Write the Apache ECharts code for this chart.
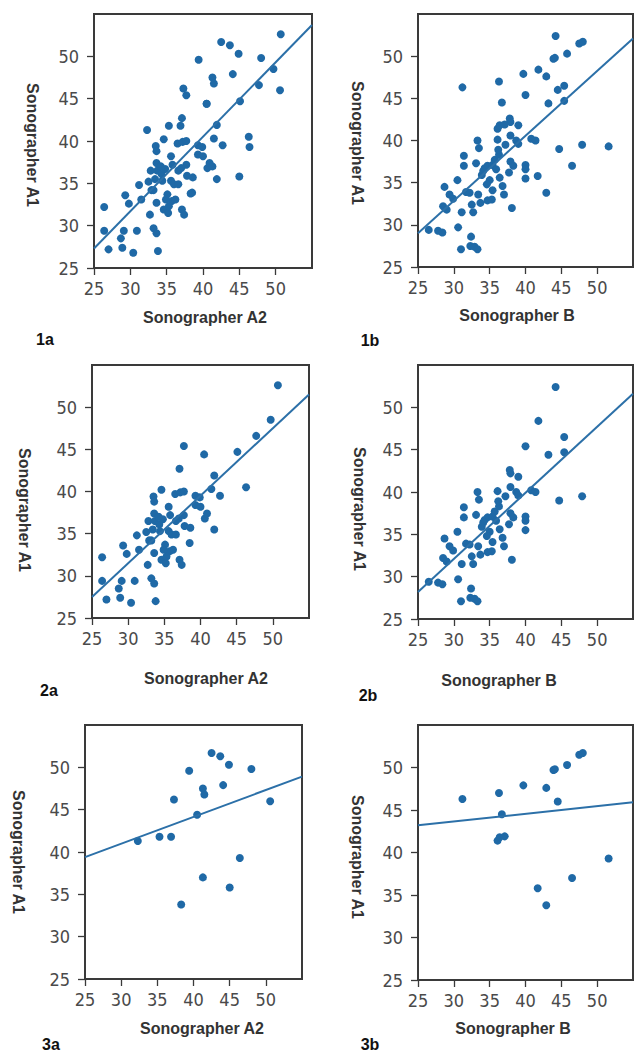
<!DOCTYPE html>
<html>
<head>
<meta charset="utf-8">
<script src="https://cdn.jsdelivr.net/npm/echarts@6/dist/echarts.min.js"></script>
<style>
  html, body { margin: 0; padding: 0; background: #fff; }
  #chart { width: 635px; height: 1052px; }
</style>
</head>
<body>
<div id="chart"></div>
<script>
  // [Sonographer A2, Sonographer A1] - main group (panel 2a)
  var a2Main = [
    [26.4, 32.2], [26.4, 29.4], [27.0, 27.2], [28.9, 27.4], [30.4, 26.8], [28.7, 28.5],
    [29.1, 29.4], [29.3, 33.6], [29.8, 32.6], [30.9, 29.4], [31.2, 34.8], [31.5, 33.1],
    [32.5, 35.2], [32.7, 31.3], [32.8, 36.5], [32.9, 34.2], [33.2, 29.7], [33.6, 29.1],
    [33.6, 32.7], [33.8, 27.0], [33.5, 39.4], [33.6, 38.8], [33.6, 37.4], [33.7, 36.5],
    [33.4, 35.5], [33.2, 34.2], [34.6, 40.2], [34.3, 36.1], [34.8, 36.7], [34.6, 31.9],
    [35.2, 31.5], [35.1, 33.7], [35.6, 38.2], [35.8, 37.2], [35.6, 35.3], [36.0, 34.9],
    [35.7, 32.9], [35.3, 32.3], [36.6, 36.5], [37.1, 31.9], [37.4, 31.3], [37.1, 42.7],
    [37.7, 45.4], [36.5, 39.7], [37.2, 39.9], [37.7, 40.0], [37.7, 37.2], [37.8, 35.9],
    [37.0, 36.8], [38.6, 35.7], [38.5, 33.9], [39.3, 39.5], [39.9, 39.3], [39.3, 38.4],
    [40.0, 38.2], [40.5, 44.4], [40.6, 36.8], [40.9, 37.4], [41.5, 40.3], [41.9, 41.9],
    [41.9, 35.5], [42.7, 39.5], [45.1, 44.7], [46.3, 40.5], [47.7, 46.6], [49.7, 48.5],
    [50.7, 52.6], [34.2, 37.0], [34.9, 33.1], [34.4, 35.3], [36.2, 33.1], [36.6, 34.9]
  ];
  // [Sonographer A2, Sonographer A1] - subgroup (panel 3a)
  var a2Out = [
    [32.3, 41.3], [35.3, 41.8], [36.9, 41.8], [37.3, 46.2], [38.3, 33.8], [39.4, 49.6],
    [40.5, 44.4], [41.3, 47.5], [41.5, 46.8], [41.3, 37.0], [42.5, 51.7], [43.7, 51.3],
    [44.1, 47.9], [44.9, 50.3], [45.0, 35.8], [46.4, 39.3], [48.0, 49.8], [50.6, 46.0]
  ];
  // [Sonographer B, Sonographer A1] - main group (panel 2b)
  var bMain = [
    [26.5, 29.4], [27.8, 29.3], [28.4, 29.1], [28.5, 32.2], [28.7, 34.5], [29.0, 31.8],
    [29.4, 33.6], [29.9, 33.1], [30.5, 35.3], [30.6, 29.7], [31.0, 27.1], [31.4, 38.2],
    [31.4, 37.0], [31.1, 31.5], [31.7, 33.9], [32.2, 33.8], [32.4, 28.6], [32.3, 27.5],
    [32.9, 27.4], [33.3, 27.1], [32.7, 31.5], [32.5, 32.4], [33.1, 37.3], [33.3, 40.0],
    [33.5, 39.1], [33.4, 33.6], [33.7, 32.6], [33.9, 35.9], [34.3, 36.7], [34.7, 32.9],
    [35.0, 35.3], [35.3, 33.0], [35.4, 34.1], [34.7, 37.0], [35.4, 37.1], [35.7, 37.7],
    [36.1, 40.1], [36.3, 38.3], [36.2, 38.9], [36.4, 35.6], [36.8, 34.6], [37.0, 33.6],
    [37.2, 39.5], [37.8, 42.6], [37.9, 42.2], [37.7, 36.2], [37.9, 37.5], [38.1, 32.0],
    [38.3, 37.0], [37.9, 40.6], [38.7, 40.0], [39.0, 41.8], [39.0, 39.6], [40.0, 45.4],
    [40.0, 37.1], [40.0, 36.6], [40.0, 35.5], [40.8, 40.2], [41.4, 40.0], [41.8, 48.4],
    [43.2, 44.4], [44.7, 39.0], [45.4, 46.5], [45.4, 44.7], [44.2, 52.4], [47.9, 39.5],
    [34.1, 36.4], [34.6, 34.8], [35.9, 36.6]
  ];
  // [Sonographer B, Sonographer A1] - subgroup (panel 3b)
  var bOut = [
    [31.2, 46.3], [36.3, 47.0], [36.1, 41.4], [36.4, 41.8], [37.1, 41.9], [36.7, 44.5],
    [39.7, 47.9], [41.7, 35.8], [42.9, 47.6], [42.9, 33.8], [43.9, 49.7], [44.1, 49.8],
    [44.5, 46.0], [45.8, 50.3], [46.5, 37.0], [47.5, 51.5], [48.0, 51.7], [51.6, 39.3]
  ];
  // fitted lines: [x, y] at both ends
  var fit1a = [[25, 27.3], [55, 53.7]];
  var fit1b = [[25, 29.0], [55, 52.1]];
  var fit2a = [[25, 27.5], [55, 51.5]];
  var fit2b = [[25, 28.2], [55, 51.6]];
  var fit3a = [[25, 39.4], [55, 48.9]];
  var fit3b = [[25, 43.2], [55, 45.9]];
  var ticks = [25, 30, 35, 40, 45, 50];

  var dotColor = '#1f69a6';
  var lineColor = '#2c70a8';
  var axisColor = '#3a3a3a';

  var panels = [
    { tag: '1a', xName: 'Sonographer A2', pts: a2Main.concat(a2Out), fit: fit1a,
      grid: { left: 94, top: 14, width: 218, height: 254 },
      yTitle: [32, 145], xTitle: [205, 317], label: [45, 339] },
    { tag: '1b', xName: 'Sonographer B', pts: bMain.concat(bOut), fit: fit1b,
      grid: { left: 418, top: 14, width: 215, height: 253 },
      yTitle: [357, 143], xTitle: [517, 315], label: [370, 340] },
    { tag: '2a', xName: 'Sonographer A2', pts: a2Main, fit: fit2a,
      grid: { left: 92, top: 365, width: 217, height: 253 },
      yTitle: [24, 510], xTitle: [206, 678], label: [49, 690] },
    { tag: '2b', xName: 'Sonographer B', pts: bMain, fit: fit2b,
      grid: { left: 418, top: 365, width: 215, height: 254 },
      yTitle: [359, 509], xTitle: [499, 680], label: [368, 695] },
    { tag: '3a', xName: 'Sonographer A2', pts: a2Out, fit: fit3a,
      grid: { left: 85, top: 725, width: 217, height: 254 },
      yTitle: [18, 852], xTitle: [202, 1028], label: [51, 1044] },
    { tag: '3b', xName: 'Sonographer B', pts: bOut, fit: fit3b,
      grid: { left: 418, top: 725, width: 215, height: 255 },
      yTitle: [357, 857], xTitle: [513, 1028], label: [370, 1044] }
  ];

  function makeAxis(gridIndex, isY) {
    return {
      type: 'value',
      gridIndex: gridIndex,
      min: 25,
      max: 55,
      interval: 5,
      splitLine: { show: false },
      axisLine: { show: true, onZero: false, lineStyle: { color: axisColor, width: 2 } },
      axisTick: { show: true, length: 7, customValues: ticks, lineStyle: { color: axisColor, width: 1.3 } },
      axisLabel: {
        customValues: ticks,
        color: '#4a4a4a',
        fontSize: 18,
        fontFamily: '"Liberation Sans Narrow", "DejaVu Sans Condensed", "Liberation Sans", sans-serif',
        margin: isY ? 15 : 11
      }
    };
  }

  var grids = [], xAxes = [], yAxes = [], series = [], graphics = [];
  var titleFont = 'bold 16px "Liberation Sans", Arial, sans-serif';

  panels.forEach(function (p, i) {
    grids.push(Object.assign({ show: true, borderColor: axisColor, borderWidth: 2,
      backgroundColor: '#fff' }, p.grid));
    xAxes.push(makeAxis(i, false));
    yAxes.push(makeAxis(i, true));
    series.push({
      type: 'scatter',
      xAxisIndex: i,
      yAxisIndex: i,
      symbolSize: 8,
      itemStyle: { color: dotColor, opacity: 1 },
      data: p.pts,
      z: 3
    });
    series.push({
      type: 'line',
      xAxisIndex: i,
      yAxisIndex: i,
      showSymbol: false,
      lineStyle: { color: lineColor, width: 2 },
      data: p.fit,
      z: 4
    });
    graphics.push({
      type: 'text', x: p.yTitle[0], y: p.yTitle[1], rotation: -Math.PI / 2,
      style: { text: 'Sonographer A1', font: titleFont, fill: '#333',
        align: 'center', verticalAlign: 'middle' }
    });
    graphics.push({
      type: 'text', x: p.xTitle[0], y: p.xTitle[1],
      style: { text: p.xName, font: titleFont, fill: '#333',
        align: 'center', verticalAlign: 'middle' }
    });
    graphics.push({
      type: 'text', x: p.label[0], y: p.label[1],
      style: { text: p.tag, font: titleFont, fill: '#111',
        align: 'center', verticalAlign: 'middle' }
    });
  });

  var chart = echarts.init(document.getElementById('chart'), null, { renderer: 'svg' });
  chart.setOption({
    animation: false,
    backgroundColor: '#fff',
    grid: grids,
    xAxis: xAxes,
    yAxis: yAxes,
    series: series,
    graphic: graphics
  });
</script>
</body>
</html>
